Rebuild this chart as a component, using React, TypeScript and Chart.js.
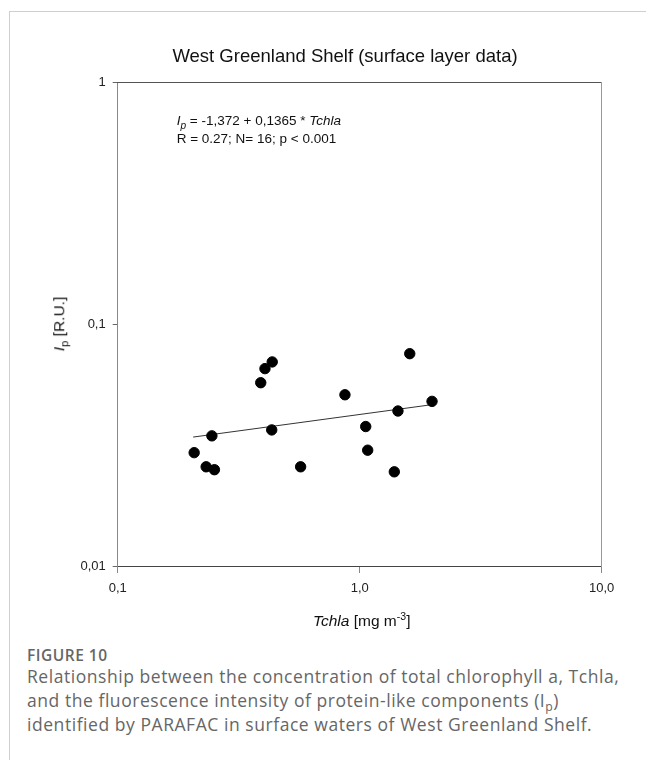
import React, { useEffect, useRef } from 'react';
import { Chart, registerables } from 'chart.js';

Chart.register(...registerables);

// ---- data ----
const tchla = [0.207, 0.232, 0.251, 0.245, 0.39, 0.406, 0.435, 0.433, 0.57, 0.869, 1.059, 1.079, 1.39, 1.439, 1.61, 1.99];
const ip = [0.0294, 0.0257, 0.025, 0.0345, 0.0572, 0.0654, 0.0697, 0.0365, 0.0257, 0.051, 0.0377, 0.0301, 0.0245, 0.0437, 0.0754, 0.0479];
const fitX = [0.205, 1.953];
const fitY = [0.0341, 0.0463];
const xTicks = [0.1, 1, 10];
const xTickLabels = ['0,1', '1,0', '10,0'];
const yTicks = [0.01, 0.1, 1];
const yTickLabels = ['0,01', '0,1', '1'];

const FONT = "'Liberation Sans', Arial, Helvetica, sans-serif";
const CAPTION_FONT = "'Open Sans', 'Noto Sans', sans-serif";

export default function App() {
  const ref = useRef<HTMLCanvasElement | null>(null);

  useEffect(() => {
    if (!ref.current) return;
    const chart = new Chart(ref.current, {
      type: 'scatter',
      data: {
        datasets: [
          {
            label: 'Ip',
            data: tchla.map((x, i) => ({ x, y: ip[i] })),
            backgroundColor: '#000',
            borderColor: '#000',
            pointRadius: 5.2,
            pointHoverRadius: 5.2,
            showLine: false,
          },
          {
            label: 'fit',
            data: fitX.map((x, i) => ({ x, y: fitY[i] })),
            showLine: true,
            borderColor: '#333',
            borderWidth: 1,
            pointRadius: 0,
            fill: false,
          },
        ],
      },
      options: {
        responsive: false,
        animation: false,
        layout: { padding: { left: 44, right: 0, top: 0, bottom: 0 } },
        plugins: {
          legend: { display: false },
          tooltip: { enabled: false },
          title: {
            display: true,
            text: 'West Greenland Shelf (surface layer data)',
            color: '#111',
            font: { family: FONT, size: 18.5, weight: 'normal', lineHeight: 1.2 },
            padding: { top: 46, bottom: 0 },
          },
        },
        scales: {
          x: {
            type: 'logarithmic',
            position: 'bottom',
            min: 0.1,
            max: 10,
            afterBuildTicks: (s: any) => {
              s.ticks = xTicks.map((v) => ({ value: v }));
            },
            afterFit: (s: any) => {
              s.height = 74;
            },
            ticks: {
              autoSkip: false,
              maxRotation: 0,
              padding: 8,
              color: '#222',
              font: { family: FONT, size: 13 },
              callback: (v: any) => {
                const i = xTicks.indexOf(Number(v));
                return i >= 0 ? xTickLabels[i] : '';
              },
            },
            grid: { display: true, drawOnChartArea: false, drawTicks: true, tickLength: 7, color: '#888' },
            border: { display: true, color: '#444', width: 1 },
          },
          y: {
            type: 'logarithmic',
            position: 'left',
            min: 0.01,
            max: 1,
            afterBuildTicks: (s: any) => {
              s.ticks = yTicks.map((v) => ({ value: v }));
            },
            afterFit: (s: any) => {
              s.width = 73.7;
            },
            ticks: {
              autoSkip: false,
              padding: 7,
              color: '#222',
              font: { family: FONT, size: 13 },
              callback: (v: any) => {
                const i = yTicks.indexOf(Number(v));
                return i >= 0 ? yTickLabels[i] : '';
              },
            },
            grid: { display: true, drawOnChartArea: false, drawTicks: true, tickLength: 5, color: '#666' },
            border: { display: true, color: '#888', width: 1 },
          },
          x2: {
            axis: 'x',
            type: 'linear',
            position: 'top',
            display: true,
            ticks: { display: false },
            grid: { display: false },
            border: { display: true, color: '#555', width: 1 },
            afterFit: (s: any) => {
              s.height = 13.8;
            },
          },
          y2: {
            axis: 'y',
            type: 'linear',
            position: 'right',
            display: true,
            ticks: { display: false },
            grid: { display: false },
            border: { display: true, color: '#999', width: 1 },
            afterFit: (s: any) => {
              s.width = 44.3;
            },
          },
        },
      } as any,
    });
    return () => chart.destroy();
  }, []);

  return (
    <div style={{ position: 'absolute', left: 0, top: 0, width: 646, height: 760, overflow: 'hidden', background: '#fff' }}>
      <div
        style={{
          position: 'absolute',
          left: 9,
          top: 11,
          right: 0,
          bottom: 0,
          borderTop: '1px solid #cfcfcf',
          borderLeft: '1px solid #cfcfcf',
        }}
      />
      <canvas
        ref={ref}
        width={646}
        height={640}
        style={{ position: 'absolute', left: 0, top: 0, width: 646, height: 640, display: 'block' }}
      />
      {/* regression annotation */}
      <div
        style={{
          position: 'absolute',
          left: 176.7,
          top: 111.5,
          fontFamily: FONT,
          fontSize: 13.5,
          lineHeight: '18px',
          color: '#111',
          whiteSpace: 'nowrap',
        }}
      >
        <div>
          <i>I</i>
          <span style={{ fontSize: '0.75em', verticalAlign: '-0.35em', lineHeight: 0, fontStyle: 'italic' }}>p</span>
          {' = -1,372 + 0,1365 * '}
          <i>Tchla</i>
        </div>
        <div>R = 0.27; N= 16; p &lt; 0.001</div>
      </div>
      {/* y axis title */}
      <div
        style={{
          position: 'absolute',
          left: 59,
          top: 324,
          transform: 'translate(-50%, -50%) rotate(-90deg)',
          fontFamily: FONT,
          fontSize: 15.5,
          lineHeight: 1,
          color: '#111',
          whiteSpace: 'nowrap',
        }}
      >
        <i>I</i>
        <span style={{ fontSize: '0.72em', verticalAlign: '-0.35em', lineHeight: 0 }}>p</span>
        {' [R.U.]'}
      </div>
      {/* x axis title */}
      <div
        style={{
          position: 'absolute',
          left: 361.7,
          top: 612.9,
          transform: 'translateX(-50%)',
          fontFamily: FONT,
          fontSize: 15.5,
          lineHeight: 1,
          color: '#111',
          whiteSpace: 'nowrap',
        }}
      >
        <i>Tchla</i>
        {' [mg m'}
        <span style={{ fontSize: '0.68em', verticalAlign: '0.55em', lineHeight: 0 }}>-3</span>
        {']'}
      </div>
      {/* caption */}
      <div
        style={{
          position: 'absolute',
          left: 27,
          top: 644,
          fontFamily: CAPTION_FONT,
          fontSize: 15.5,
          fontWeight: 600,
          lineHeight: '22px',
          color: '#666',
          whiteSpace: 'nowrap',
          letterSpacing: 0.5,
        }}
      >
        FIGURE 10
      </div>
      <div
        style={{
          position: 'absolute',
          left: 27,
          top: 664,
          fontFamily: CAPTION_FONT,
          fontSize: 17.5,
          lineHeight: '24px',
          color: '#666',
          whiteSpace: 'nowrap',
          letterSpacing: 0.55,
        }}
      >
        <div>Relationship between the concentration of total chlorophyll a, Tchla,</div>
        <div>
          and the fluorescence intensity of protein-like components (I
          <span style={{ fontSize: '0.7em', verticalAlign: '-0.3em', lineHeight: 0 }}>p</span>)
        </div>
        <div>identified by PARAFAC in surface waters of West Greenland Shelf.</div>
      </div>
    </div>
  );
}
